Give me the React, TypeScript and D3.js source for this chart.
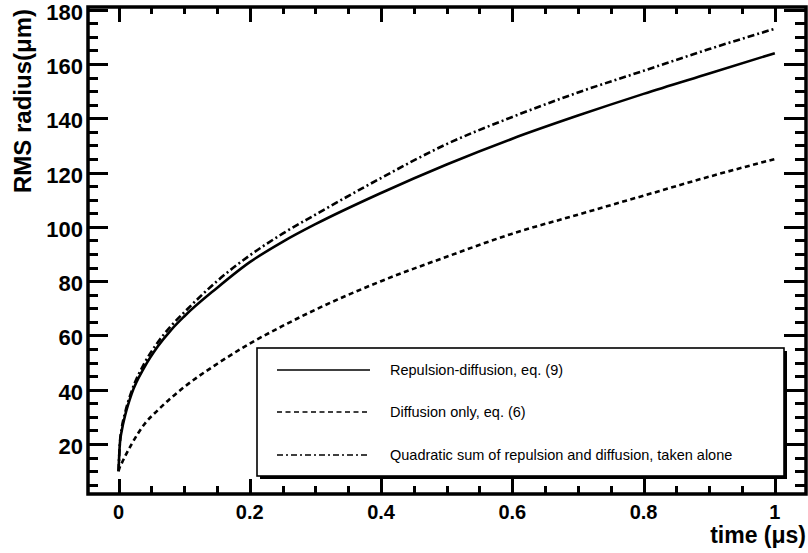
import React from "react";
import * as d3 from "d3";

const T = [0, 0.002, 0.005, 0.01, 0.02, 0.04, 0.06, 0.08, 0.1, 0.15, 0.2, 0.25, 0.3, 0.4, 0.5, 0.6, 0.7, 0.8, 0.9, 1.0];
const repulsionDiffusion = [10, 20, 25, 30.5, 38.5, 48.5, 56, 62, 67, 77.5, 87, 94.5, 101, 112.5, 123, 132.5, 141, 149, 156.5, 164];
const diffusionOnly = [10, 11.5, 13, 15.5, 20, 27.5, 32.5, 37, 41, 49.5, 57, 63.5, 69.5, 80, 89, 97.5, 104.5, 111.5, 118.5, 125];
const quadraticSum = [10, 20, 26, 31.5, 39.5, 50, 57.5, 63.5, 68.5, 80, 89.5, 97.5, 104.5, 118, 130.5, 140.5, 149.5, 157.5, 165.5, 173];

const xTicks = [0, 0.2, 0.4, 0.6, 0.8, 1];
const xTickLabels = ["0", "0.2", "0.4", "0.6", "0.8", "1"];
const yTicks = [20, 40, 60, 80, 100, 120, 140, 160, 180];

const legendLabels = [
  "Repulsion-diffusion, eq. (9)",
  "Diffusion only, eq. (6)",
  "Quadratic sum of repulsion and diffusion, taken alone",
];

const FONT = "'Liberation Sans', Arial, Helvetica, sans-serif";

type Tick = { x: number; y: number; w: number; h: number };

export default function App() {
  const W = 808, H = 553;
  const fx0 = 88, fx1 = 806, fy0 = 7, fy1 = 494;
  const x = d3.scaleLinear().domain([-0.0465, 1.0475]).range([fx0, fx1]);
  const y = d3.scaleLinear().domain([1.6, 181]).range([fy1, fy0]);

  const curve = d3
    .line<number>()
    .x((_, i) => x(T[i]))
    .y((d) => y(d))
    .curve(d3.curveMonotoneX);

  const xMinor = d3.range(0, 21).map((i) => i * 0.05).filter((_, i) => i % 4 !== 0);
  const yMinor = d3.range(1, 37).map((i) => i * 5).filter((v) => v % 20 !== 0);

  const tw = 3;
  const ticks: Tick[] = [];
  xTicks.forEach((t) => {
    const cx = Math.round(x(t));
    ticks.push({ x: cx - 1, y: fy1 - 15, w: tw, h: 15 });
    ticks.push({ x: cx - 1, y: fy0, w: tw, h: 15 });
  });
  xMinor.forEach((t) => {
    const cx = Math.round(x(t));
    ticks.push({ x: cx - 1, y: fy1 - 8, w: tw, h: 8 });
    ticks.push({ x: cx - 1, y: fy0, w: tw, h: 7 });
  });
  yTicks.forEach((v) => {
    const cy = Math.round(y(v));
    ticks.push({ x: fx0, y: cy - 1, w: 20, h: tw });
    ticks.push({ x: fx1 - 22, y: cy - 1, w: 22, h: tw });
  });
  yMinor.forEach((v) => {
    const cy = Math.round(y(v));
    ticks.push({ x: fx0, y: cy - 1, w: 10, h: tw });
    ticks.push({ x: fx1 - 11, y: cy - 1, w: 11, h: tw });
  });

  const dashes = [undefined, "5 3.5", "7 3 2 3"];
  const series = [repulsionDiffusion, diffusionOnly, quadraticSum];

  const lx0 = 257, lx1 = 784, ly0 = 348, ly1 = 476;
  const rowY = [370, 412, 455];

  return (
    <svg
      width={W}
      height={H}
      style={{ position: "absolute", left: 0, top: 0, background: "#fff" }}
      fontFamily={FONT}
    >
      <rect x={0} y={0} width={W} height={H} fill="#fff" />
      {series.map((s, i) => (
        <path
          key={"s" + i}
          d={curve(s) || ""}
          fill="none"
          stroke="#000"
          strokeWidth={2.6}
          strokeDasharray={dashes[i]}
        />
      ))}

      <rect x={lx0 + 3} y={ly0 + 3} width={lx1 - lx0} height={ly1 - ly0} fill="#000" />
      <rect x={lx0} y={ly0} width={lx1 - lx0} height={ly1 - ly0} fill="#fff" stroke="#000" strokeWidth={1.6} />
      {legendLabels.map((lab, i) => (
        <g key={"lg" + i}>
          <path
            d={`M277,${rowY[i]}H370`}
            stroke="#000"
            strokeWidth={1.6}
            fill="none"
            strokeDasharray={i === 1 ? "5 3.5" : i === 2 ? "6 3 2 3" : undefined}
          />
          <text x={390} y={rowY[i] + 5} fontSize={14.5} fill="#000">
            {lab}
          </text>
        </g>
      ))}

      <g>
        {ticks.map((k, i) => (
          <rect key={"tk" + i} x={k.x} y={k.y} width={k.w} height={k.h} fill="#000" />
        ))}
      </g>
      <rect x={fx0} y={fy0} width={fx1 - fx0} height={fy1 - fy0} fill="none" stroke="#000" strokeWidth={3.5} />

      {xTicks.map((t, i) => (
        <text key={"xl" + i} x={x(t)} y={519} fontSize={20} fontWeight="bold" textAnchor="middle" fill="#000">
          {xTickLabels[i]}
        </text>
      ))}
      {yTicks.map((v, i) => (
        <text key={"yl" + i} x={83} y={y(v) + 10} fontSize={22} fontWeight="bold" textAnchor="end" fill="#000">
          {v}
        </text>
      ))}

      <text x={806} y={543} fontSize={23} fontWeight="bold" textAnchor="end" fill="#000">
        time (μs)
      </text>
      <text
        transform={`translate(31, 9) rotate(-90)`}
        fontSize={24}
        fontWeight="bold"
        textAnchor="end"
        fill="#000"
      >
        RMS radius(μm)
      </text>
    </svg>
  );
}
